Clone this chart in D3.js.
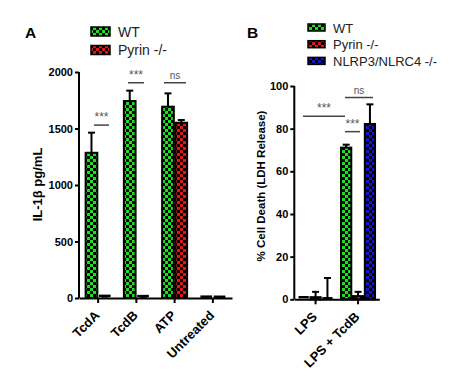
<!DOCTYPE html>
<html><head><meta charset="utf-8">
<script src="https://cdn.jsdelivr.net/npm/d3@7"></script>
<style>body{margin:0;background:#fff}svg{display:block}text{font-family:"Liberation Sans",Arial,sans-serif}</style>
</head><body>
<svg id="c" width="474" height="382"></svg>
<script>
// ---- Data ----
const catsA = ["TcdA", "TcdB", "ATP", "Untreated"];
const seriesA = ["WT", "Pyrin -/-"];
const wtA = [1285, 1743, 1693, 3];
const wtAerr = [178, 92, 118, 0];
const pyrinA = [10, 8, 1551, 2];
const pyrinAerr = [2, 2, 24, 0];
const ticksA = [0, 500, 1000, 1500, 2000];

const catsB = ["LPS", "LPS + TcdB"];
const seriesB = ["WT", "Pyrin -/-", "NLRP3/NLRC4 -/-"];
const wtB = [0.5, 71.1];
const wtBerr = [0, 1.4];
const pyrinB = [1.0, 1.5];
const pyrinBerr = [2.5, 2];
const nlrpB = [0, 82.2];
const nlrpBerr = [10, 9.2];
const ticksB = [0, 20, 40, 60, 80, 100];

const colors = {"WT": "#1ee01e", "Pyrin -/-": "#e01515", "NLRP3/NLRC4 -/-": "#1515d0"};

const svg = d3.select("#c");
const defs = svg.append("defs");
Object.entries(colors).forEach(([k, c], i) => {
  const p = defs.append("pattern").attr("id", "pat" + i).attr("patternUnits", "userSpaceOnUse")
    .attr("width", 6).attr("height", 6);
  p.append("rect").attr("width", 6).attr("height", 6).attr("fill", "#000");
  p.append("rect").attr("x", 0).attr("y", 0).attr("width", 3).attr("height", 3).attr("fill", c);
  p.append("rect").attr("x", 3).attr("y", 3).attr("width", 3).attr("height", 3).attr("fill", c);
});
const patId = s => "url(#pat" + Object.keys(colors).indexOf(s) + ")";
const FONT = "Liberation Sans, Arial, sans-serif";

function panel(opts) {
  const g = svg.append("g");
  const y = d3.scaleLinear().domain(opts.ydomain).range([opts.y0, opts.y1]);
  const x = d3.scaleBand().domain(opts.cats).range([opts.x0, opts.x1]);
  const half = opts.groupHalf;
  const xs = d3.scaleBand().domain(opts.series.map(s => s.name)).range([-half, half]).paddingInner(opts.pad);

  // bars
  opts.series.forEach(s => {
    opts.cats.forEach((c, i) => {
      const cx = x(c) + x.bandwidth() / 2;
      const bx = cx + xs(s.name);
      const bw = xs.bandwidth();
      const v = s.vals[i], e = s.err[i];
      const top = y(v);
      if (e > 0) {
        g.append("line").attr("x1", bx + bw / 2).attr("x2", bx + bw / 2).attr("y1", top).attr("y2", y(v + e))
          .attr("stroke", "#000").attr("stroke-width", 2);
        g.append("line").attr("x1", bx + bw / 2 - 3.5).attr("x2", bx + bw / 2 + 3.5).attr("y1", y(v + e)).attr("y2", y(v + e))
          .attr("stroke", "#000").attr("stroke-width", 2);
      }
      if (opts.y0 - top > 2) {
        g.append("rect").attr("x", bx).attr("y", top).attr("width", bw).attr("height", opts.y0 - top)
          .attr("fill", patId(s.name)).attr("stroke", "#000").attr("stroke-width", 2);
      } else {
        g.append("line").attr("x1", bx).attr("x2", bx + bw).attr("y1", top - 1).attr("y2", top - 1)
          .attr("stroke", "#000").attr("stroke-width", 2.5);
      }
    });
  });

  // axes
  const ya = g.append("g").attr("transform", `translate(${opts.x0},0)`)
    .call(d3.axisLeft(y).tickValues(opts.ticks).tickFormat(d3.format("d")).tickSize(4).tickPadding(2));
  ya.select(".domain").attr("stroke-width", 2).attr("d", `M0,${opts.y1}V${opts.y0}`);
  ya.selectAll(".tick line").attr("stroke-width", 2);
  ya.selectAll("text").attr("font-size", 11).attr("font-weight", "bold").attr("fill", "#000")
    .attr("font-family", FONT);

  const xa = g.append("g").attr("transform", `translate(0,${opts.y0})`)
    .call(d3.axisBottom(x).tickSize(5).tickSizeOuter(0));
  xa.select(".domain").attr("stroke-width", 2);
  xa.selectAll(".tick line").attr("stroke-width", 2);
  xa.selectAll("text").attr("font-size", 13).attr("font-weight", "bold").attr("fill", "#000")
    .attr("font-family", FONT)
    .attr("text-anchor", "end").attr("x", 0).attr("y", 0).attr("dy", "0.35em")
    .attr("transform", "translate(-1,15) rotate(-45)");

  // y label
  g.append("text").attr("transform", `translate(${opts.ylabX},${opts.ylabY}) rotate(-90)`)
    .attr("text-anchor", "middle").attr("font-size", opts.ylabFont).attr("font-weight", "bold").text(opts.ylabel);

  // panel letter
  g.append("text").attr("x", opts.letterX).attr("y", 37.5).attr("font-size", 15.5).attr("font-weight", "bold")
    .attr("font-family", FONT).text(opts.letter);

  // legend
  opts.series.forEach((s, i) => {
    const ly = opts.legY + i * opts.legStep;
    g.append("rect").attr("x", opts.legX).attr("y", ly).attr("width", opts.legW).attr("height", opts.legH)
      .attr("fill", patId(s.name)).attr("stroke", "#000").attr("stroke-width", 1.5);
    g.append("text").attr("x", opts.legX + opts.legW + 8).attr("y", ly + opts.legH / 2 + 5)
      .attr("font-size", opts.legFont).attr("fill", "#222").text(s.name);
  });

  // significance
  opts.sig.forEach(sg => {
    g.append("line").attr("x1", sg.xa).attr("x2", sg.xb).attr("y1", y(sg.v)).attr("y2", y(sg.v))
      .attr("stroke", "#444").attr("stroke-width", 1.5);
    g.append("text").attr("x", (sg.xa + sg.xb) / 2).attr("y", y(sg.v) - 4).attr("text-anchor", "middle")
      .attr("font-size", sg.t === "ns" ? 10 : 12).attr("fill", "#555").text(sg.t);
  });
  return {x, y, xs};
}

panel({
  cats: catsA, ydomain: [0, 2000], y0: 298, y1: 72, x0: 79, x1: 232, ticks: ticksA,
  groupHalf: 12.5, pad: 0.12,
  series: [{name: seriesA[0], vals: wtA, err: wtAerr}, {name: seriesA[1], vals: pyrinA, err: pyrinAerr}],
  ylabX: 42, ylabY: 184.5, ylabFont: 13, ylabel: "IL-1β pg/mL", letter: "A", letterX: 25,
  legX: 91, legY: 27, legStep: 18.5, legW: 19, legH: 9, legFont: 14,
  sig: [{xa: 94, xb: 109, v: 1530, t: "***"}, {xa: 128, xb: 144, v: 1905, t: "***"}, {xa: 164, xb: 186, v: 1905, t: "ns"}]
});

panel({
  cats: catsB, ydomain: [0, 100], y0: 299.3, y1: 86, x0: 294.3, x1: 379.3, ticks: ticksB,
  groupHalf: 17, pad: 0.14,
  series: [{name: seriesB[0], vals: wtB, err: wtBerr}, {name: seriesB[1], vals: pyrinB, err: pyrinBerr},
           {name: seriesB[2], vals: nlrpB, err: nlrpBerr}],
  ylabX: 265, ylabY: 186, ylabFont: 11.5, ylabel: "% Cell Death (LDH Release)", letter: "B", letterX: 247,
  legX: 308, legY: 24, legStep: 16.7, legW: 17, legH: 7, legFont: 13,
  sig: [{xa: 303, xb: 345, v: 85.8, t: "***"}, {xa: 345, xb: 360, v: 78.6, t: "***"}, {xa: 345, xb: 373, v: 94.6, t: "ns"}]
});
</script>
</body></html>
